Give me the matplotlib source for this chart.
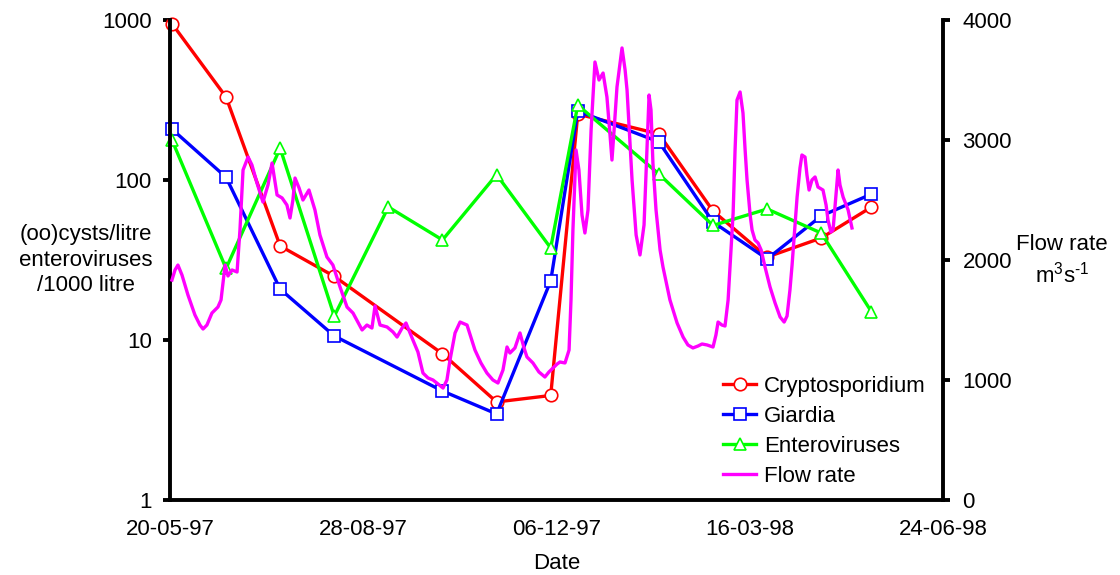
import matplotlib
matplotlib.use("Agg")
import matplotlib.pyplot as plt
import matplotlib.dates as mdates
import pandas as pd

plt.rcParams['font.family'] = ['Liberation Sans', 'DejaVu Sans']
plt.rcParams['mathtext.fontset'] = 'custom'
plt.rcParams['mathtext.rm'] = 'Liberation Sans'
plt.rcParams['mathtext.it'] = 'Liberation Sans'

# Sampling dates (dd-mm-yy)
sample_dates = ["21-05-97", "18-06-97", "16-07-97", "13-08-97", "10-09-97",
                "08-10-97", "05-11-97", "03-12-97", "17-12-97", "28-01-98",
                "25-02-98", "25-03-98", "22-04-98", "18-05-98"]

# Concentrations; None where not sampled
cryptosporidium = [950, 330, 38.7, 25, None, 8.2, 4.1, 4.5, 258, 194, 64, 33, 43.4, 67.8]
giardia = [208, 104, 20.8, 10.6, None, 4.8, 3.45, 23.4, 270, 173, 54.6, 32.1, 59.6, 81.7]
enteroviruses = [178, 28, 158, 14.1, 67.8, 42.2, 108, 37.6, 294, 109, 52, 65.9, 46.6, 15]

# River flow: days after 20-05-97 and flow (m3/s)
flow_day = [1.0, 2.6, 4.1, 6.2, 9.3, 12.9, 15.5, 17.1, 19.1, 21.7, 24.8, 26.4, 28.5, 30.0,
            32.1, 34.7, 36.2, 37.8, 40.4, 42.4, 45.0, 48.1, 50.7, 52.8, 55.4, 58.0, 60.5,
            62.1, 63.6, 64.7, 66.8, 68.8, 71.9, 75.0, 77.6, 81.2, 84.3, 88.0, 91.6, 94.7,
            99.4, 101.9, 104.5, 106.1, 108.7, 112.3, 115.4, 117.5, 120.1, 122.1, 125.7,
            128.3, 130.9, 133.5, 136.1, 138.7, 141.3, 143.3, 144.9, 147.5, 150.1, 153.7,
            155.8, 157.8, 160.9, 164.0, 167.1, 169.7, 172.3, 174.4, 175.9, 178.5, 181.1,
            183.2, 184.7, 187.8, 190.9, 194.0, 196.1, 198.2, 200.3, 201.8, 204.4, 206.5,
            207.5, 208.5, 210.1, 211.6, 213.2, 214.7, 216.3, 217.9, 219.9, 222.0, 224.1,
            226.1, 227.7, 228.7, 229.8, 231.3, 233.9, 235.5, 236.5, 239.1, 241.2, 243.2,
            245.3, 246.8, 247.9, 248.9, 249.9, 251.5, 253.6, 255.1, 258.7, 262.4, 265.5,
            268.0, 270.6, 273.2, 275.3, 277.9, 281.0, 282.5, 283.6, 285.6, 287.2, 288.8,
            290.3, 291.4, 292.4, 293.4, 295.0, 296.5, 297.6, 298.6, 300.2, 301.2, 302.7,
            304.3, 305.9, 307.9, 310.5, 313.1, 315.7, 317.8, 319.3, 320.8, 321.9, 324.5,
            326.0, 327.0, 328.6, 329.6, 330.7, 332.2, 333.8, 335.3, 337.9, 339.5, 340.5,
            342.0, 343.1, 344.1, 345.7, 346.7, 348.3, 349.3, 350.9, 352.9]
flow_rate = [1833, 1917, 1958, 1875, 1708, 1542, 1458, 1425, 1458, 1558, 1608, 1667, 1958, 1867,
             1917, 1900, 2250, 2750, 2858, 2792, 2642, 2483, 2625, 2808, 2542, 2517, 2458,
             2350, 2500, 2683, 2600, 2500, 2583, 2417, 2208, 2025, 1958, 1775, 1608, 1558,
             1417, 1458, 1433, 1617, 1458, 1442, 1400, 1358, 1433, 1475, 1333,
             1233, 1058, 1017, 1000, 967, 933, 1000, 1167, 1392, 1483, 1458,
             1350, 1250, 1142, 1058, 1000, 975, 1083, 1275, 1225, 1267, 1392,
             1267, 1192, 1142, 1067, 1025, 1067, 1100, 1133, 1150, 1142, 1250,
             1667, 2250, 2917, 2750, 2375, 2225, 2417, 3083, 3650, 3500, 3558,
             3358, 3042, 2833, 3083, 3442, 3767, 3583, 3417, 2667, 2208, 2042,
             2292, 2917, 3375, 3250, 2808, 2417, 2083, 1942, 1667, 1475, 1358,
             1292, 1267, 1283, 1300, 1292, 1275, 1375, 1483, 1458, 1450, 1667,
             2083, 2392, 2917, 3333, 3400, 3225, 2917, 2667, 2375, 2250, 2167,
             2142, 2083, 1942, 1775, 1642, 1525, 1483, 1533, 1750, 1958, 2525,
             2767, 2875, 2858, 2708, 2583, 2667, 2692, 2608, 2583, 2458, 2333,
             2233, 2250, 2442, 2750, 2625, 2525, 2483, 2417, 2267]

tick_dates = ["20-05-97", "28-08-97", "06-12-97", "16-03-98", "24-06-98"]

start = pd.Timestamp("1997-05-20")
dates = pd.to_datetime(sample_dates, format="%d-%m-%y")
flow_dates = start + pd.to_timedelta(flow_day, unit="D")
ticks = pd.to_datetime(tick_dates, format="%d-%m-%y")

fig = plt.figure(figsize=(11.2, 5.75), dpi=100)
ax = fig.add_axes([170 / 1120, 1 - 500 / 575, 773 / 1120, 480 / 575])
ax2 = ax.twinx()

fs = 16
lw = 2.4
mk = dict(markersize=9, markerfacecolor="white", markeredgewidth=1.2, clip_on=False)


def series(vals):
    return pd.Series([float("nan") if v is None else v for v in vals], index=dates).dropna()


c = series(cryptosporidium)
g = series(giardia)
e = series(enteroviruses)

l1, = ax.plot(c.index, c.values, color="#ff0000", marker="o", lw=lw,
              markeredgecolor="#ff0000", label="Cryptosporidium", **mk)
l2, = ax.plot(g.index, g.values, color="#0000ff", marker="s", lw=lw,
              markeredgecolor="#0000ff", label="Giardia", **mk)
l3, = ax.plot(e.index, e.values, color="#00ff00", marker="^", lw=lw,
              markeredgecolor="#00ff00", label="Enteroviruses", **mk)
l4, = ax2.plot(flow_dates, flow_rate, color="#ff00ff", lw=lw, label="Flow rate")

ax.set_yscale("log")
ax.set_ylim(1, 1000)
ax.set_yticks([1, 10, 100, 1000])
ax.set_yticklabels(["1", "10", "100", "1000"])
ax.yaxis.set_minor_locator(matplotlib.ticker.NullLocator())
ax2.set_ylim(0, 4000)
ax2.set_yticks([0, 1000, 2000, 3000, 4000])

ax.set_xlim(ticks[0], ticks[-1])
ax.set_xticks(ticks)
ax.xaxis.set_major_formatter(mdates.DateFormatter("%d-%m-%y"))

for a in (ax, ax2):
    a.spines["top"].set_visible(False)
    for s in a.spines.values():
        s.set_linewidth(2.8)
ax.spines["right"].set_visible(False)
ax2.spines["left"].set_visible(False)
ax2.spines["bottom"].set_visible(False)

ax.tick_params(axis="y", direction="out", length=5, width=2.8, labelsize=fs, pad=8)
ax2.tick_params(axis="y", direction="out", length=5, width=2.8, labelsize=fs, pad=9)
ax.tick_params(axis="x", direction="out", length=0, width=2.8, labelsize=fs, pad=14)

ax.set_xlabel("Date", fontsize=fs, labelpad=9)

fig.text(86 / 1120, 1 - 260 / 575, "(oo)cysts/litre\nenteroviruses\n/1000 litre",
         ha="center", va="center", fontsize=fs, linespacing=1.3)
fig.text(1062 / 1120, 1 - 245 / 575, "Flow rate", ha="center", va="center", fontsize=fs)
fig.text(1062 / 1120, 1 - 275 / 575, "m$^3$s$^{\u2010 1}$", ha="center", va="center", fontsize=fs)

ax2.legend(handles=[l1, l2, l3, l4], loc="lower right", bbox_to_anchor=(0.995, 0.0),
           frameon=False, fontsize=16, handlelength=1.5, handletextpad=0.35,
           labelspacing=0.4, borderaxespad=0.2)

fig.savefig("out.png", dpi=100)
